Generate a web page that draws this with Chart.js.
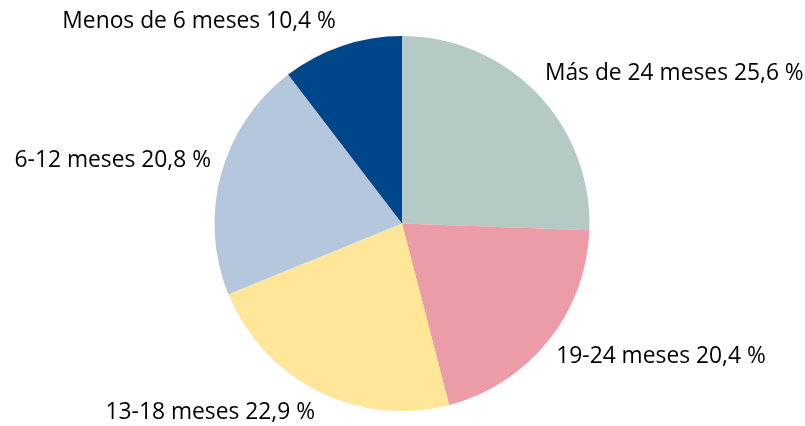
<!DOCTYPE html>
<html>
<head>
<meta charset="utf-8">
<script src="https://cdn.jsdelivr.net/npm/chart.js@4/dist/chart.umd.min.js"></script>
<style>
  html, body { margin: 0; padding: 0; background: #fff; }
  #wrap { width: 805px; height: 426px; }
</style>
</head>
<body>
<div id="wrap"><canvas id="pieChart" width="805" height="426"></canvas></div>
<script>
const categories = ["Más de 24 meses", "19-24 meses", "13-18 meses", "6-12 meses", "Menos de 6 meses"];
const shares = [25.6, 20.4, 22.9, 20.8, 10.4];
const valueLabels = ["25,6 %", "20,4 %", "22,9 %", "20,8 %", "10,4 %"];
const sliceColors = ["#B5CAC5", "#EC9CA6", "#FFE699", "#B5C7DD", "#00468B"];

// label nudges from the arc's mid point (x, y)
const labelNudge = [[8, -20], [8, 16], [-3, 21], [-10, -14], [-6, -24]];

const outsideLabels = {
  id: "outsideLabels",
  afterDraw(chart) {
    const ctx = chart.ctx;
    const meta = chart.getDatasetMeta(0);
    ctx.save();
    ctx.font = "22.8px 'Open Sans'";
    ctx.fillStyle = "#000";
    ctx.textBaseline = "middle";
    meta.data.forEach((arc, i) => {
      const p = arc.getProps(["x", "y", "startAngle", "endAngle", "outerRadius"], true);
      const mid = (p.startAngle + p.endAngle) / 2;
      const ax = p.x + Math.cos(mid) * p.outerRadius;
      const ay = p.y + Math.sin(mid) * p.outerRadius;
      ctx.textAlign = Math.cos(mid) >= 0 ? "left" : "right";
      ctx.fillText(categories[i] + " " + valueLabels[i], ax + labelNudge[i][0], ay + labelNudge[i][1]);
    });
    ctx.restore();
  }
};

new Chart(document.getElementById("pieChart").getContext("2d"), {
  type: "pie",
  data: {
    labels: categories,
    datasets: [{
      data: shares,
      backgroundColor: sliceColors,
      borderWidth: 0
    }]
  },
  options: {
    responsive: false,
    animation: false,
    layout: { padding: { top: 36, bottom: 15, left: 0, right: 1 } },
    plugins: {
      legend: { display: false },
      tooltip: { enabled: false }
    }
  },
  plugins: [outsideLabels]
});
</script>
</body>
</html>
